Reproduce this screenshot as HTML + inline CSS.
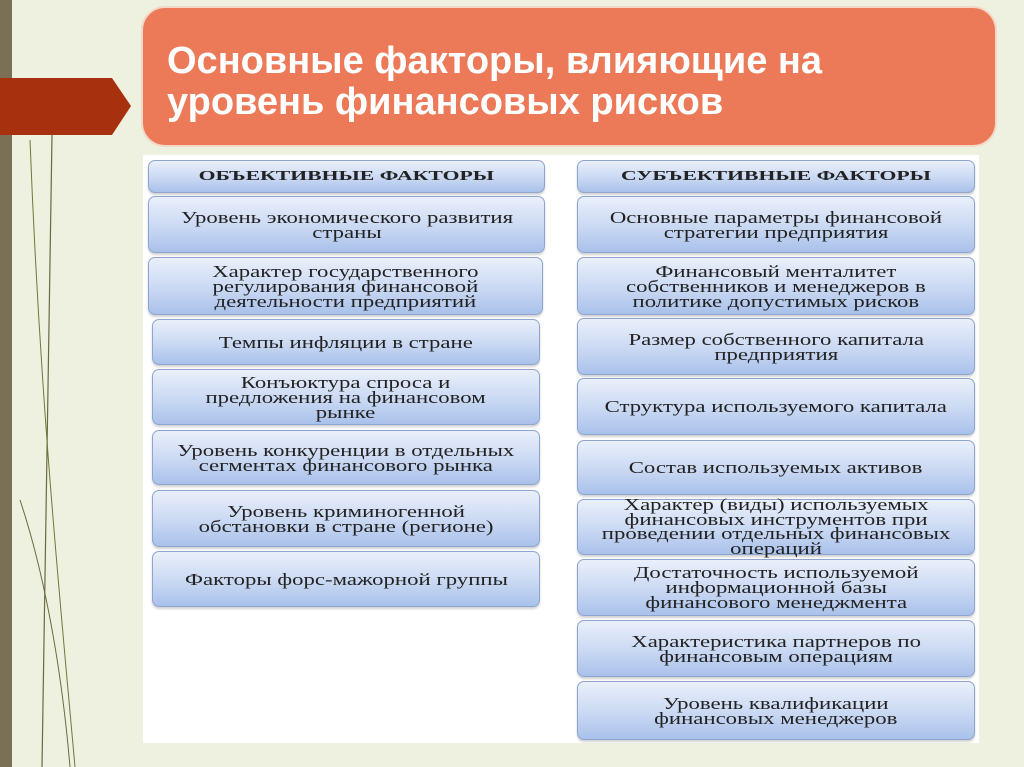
<!DOCTYPE html>
<html><head><meta charset="utf-8"><style>
body{margin:0;width:1024px;height:767px;background:#eef1df;position:relative;overflow:hidden;font-family:"Liberation Serif",serif}
.bar{position:absolute;left:0;top:0;width:12px;height:767px;background:#7b7055}
.title{position:absolute;left:143px;top:8px;width:852px;height:137px;background:#ec7a59;border-radius:22px;box-shadow:0 0 0 2px #f3d8c8}
.title div{position:absolute;left:24px;top:33px;color:#fff;font:bold 38px/41px "Liberation Sans","DejaVu Sans",sans-serif;white-space:nowrap}
.panel{position:absolute;left:143px;top:155px;width:836px;height:588px;background:#fff}
.b{position:absolute;box-sizing:border-box;border:1px solid #8ea6cf;border-radius:7px;background:linear-gradient(#eaf0fb,#c6d6f2 60%,#a9c1ea);display:flex;align-items:center;justify-content:center;text-align:center;font-size:17px;line-height:15px;color:#222;box-shadow:0 2px 2px rgba(0,0,0,.18)}
.b span{display:inline-block;transform:scaleX(1.34);white-space:nowrap}
.h{font-weight:bold;font-size:14px}
.h span{transform:scaleX(1.55)}
</style></head><body>
<div class="bar"></div>
<svg style="position:absolute;left:0;top:0" width="140" height="767">
<polygon points="0,78 112,78 131,106 112,135 0,135" fill="#a7310f"/>
<path d="M52,135 L42,767" stroke="#6a6a40" stroke-width="1.2" fill="none"/>
<path d="M30,140 C40,400 60,600 75,767" stroke="#6a7a3a" stroke-width="1" fill="none"/>
<path d="M20,500 C40,560 60,650 70,767" stroke="#6a6a40" stroke-width="1" fill="none"/>
</svg>
<div class="title"><div>Основные факторы, влияющие на<br>уровень финансовых рисков</div></div>
<div class="panel"></div>

<div class="b h" style="left:148px;top:160px;width:397px;height:33px"><span>ОБЪЕКТИВНЫЕ ФАКТОРЫ</span></div>
<div class="b" style="left:148px;top:196px;width:397px;height:57px"><span>Уровень экономического развития<br>страны</span></div>
<div class="b" style="left:148px;top:257px;width:395px;height:58px"><span>Характер государственного<br>регулирования финансовой<br>деятельности предприятий</span></div>
<div class="b" style="left:152px;top:319px;width:388px;height:46px"><span>Темпы инфляции в стране</span></div>
<div class="b" style="left:152px;top:369px;width:388px;height:56px"><span>Конъюктура спроса и<br>предложения на финансовом<br>рынке</span></div>
<div class="b" style="left:152px;top:430px;width:388px;height:55px"><span>Уровень конкуренции в отдельных<br>сегментах финансового рынка</span></div>
<div class="b" style="left:152px;top:490px;width:388px;height:57px"><span>Уровень криминогенной<br>обстановки в стране (регионе)</span></div>
<div class="b" style="left:152px;top:551px;width:388px;height:56px"><span>Факторы форс-мажорной группы</span></div>

<div class="b h" style="left:577px;top:160px;width:398px;height:33px"><span>СУБЪЕКТИВНЫЕ ФАКТОРЫ</span></div>
<div class="b" style="left:577px;top:196px;width:398px;height:57px"><span>Основные параметры финансовой<br>стратегии предприятия</span></div>
<div class="b" style="left:577px;top:257px;width:398px;height:58px"><span>Финансовый менталитет<br>собственников и менеджеров в<br>политике допустимых рисков</span></div>
<div class="b" style="left:577px;top:318px;width:398px;height:57px"><span>Размер собственного капитала<br>предприятия</span></div>
<div class="b" style="left:577px;top:378px;width:398px;height:57px"><span>Структура используемого капитала</span></div>
<div class="b" style="left:577px;top:440px;width:398px;height:55px"><span>Состав используемых активов</span></div>
<div class="b" style="left:577px;top:499px;width:398px;height:56px;line-height:14.5px"><span>Характер (виды) используемых<br>финансовых инструментов при<br>проведении отдельных финансовых<br>операций</span></div>
<div class="b" style="left:577px;top:559px;width:398px;height:57px"><span>Достаточность используемой<br>информационной базы<br>финансового менеджмента</span></div>
<div class="b" style="left:577px;top:620px;width:398px;height:57px"><span>Характеристика партнеров по<br>финансовым операциям</span></div>
<div class="b" style="left:577px;top:681px;width:398px;height:59px"><span>Уровень квалификации<br>финансовых менеджеров</span></div>
</body></html>
